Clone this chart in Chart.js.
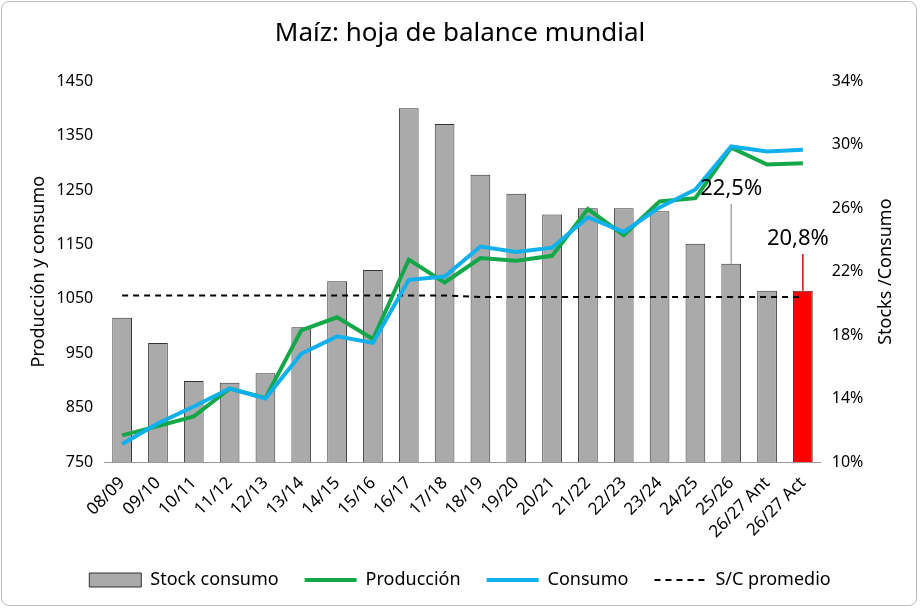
<!DOCTYPE html>
<html><head><meta charset="utf-8">
<script src="https://cdn.jsdelivr.net/npm/chart.js@4"></script>
<style>
html,body{margin:0;padding:0;background:#fff;}
#wrap{position:absolute;left:1px;top:1px;width:916px;height:605px;border:1px solid #bbb;border-radius:8px;box-sizing:border-box;}
canvas{position:absolute;left:0;top:0;}
</style></head><body>
<div id="wrap"><canvas id="c" width="914" height="603"></canvas></div>
<script>
const categories=["08/09","09/10","10/11","11/12","12/13","13/14","14/15","15/16","16/17","17/18","18/19","19/20","20/21","21/22","22/23","23/24","24/25","25/26","26/27 Ant","26/27 Act"];
const stockConsumo=[19.1,17.5,15.1,15.0,15.6,18.5,21.4,22.1,32.3,31.3,28.1,26.9,25.6,26.0,26.0,25.8,23.75,22.5,20.8,20.8];
const produccion=[799,816,834,885,868,992,1016,976,1122,1080,1125,1120,1129,1215,1167,1229,1235,1328,1297,1299];
const consumo=[783,821,852,885,867,949,981,969,1085,1091,1146,1136,1144,1200,1173,1218,1251,1330,1321,1324];
const scPromedio=[20.5,20.5,20.5,20.5,20.5,20.5,20.5,20.5,20.5,20.5,20.4,20.4,20.4,20.4,20.4,20.4,20.4,20.4,20.4,20.4];
const labels=[{i:17,text:"22,5%",dx:0,ty:190,color:"#aaa"},{i:19,text:"20,8%",dx:-5,ty:240,color:"#e00"}];
const F="'Noto Sans', sans-serif";
const annot={id:'annot',afterDatasetsDraw(ch){
 const c=ch.ctx,x=ch.scales.x,y=ch.scales.y1;
 labels.forEach(l=>{const px=x.getPixelForValue(l.i),py=y.getPixelForValue(stockConsumo[l.i]);
  c.save();c.strokeStyle=l.color;c.lineWidth=1.5;c.beginPath();c.moveTo(px,py);c.lineTo(px,l.ty+12);c.stroke();
  c.fillStyle='#000';c.font="22px "+F;c.textAlign='center';c.textBaseline='bottom';c.fillText(l.text,px+l.dx,l.ty+8);c.restore();});
 const s=ch.scales.y1;c.save();c.translate(s.right-10,(s.top+s.bottom)/2);c.rotate(-Math.PI/2);
 c.fillStyle='#000';c.font="18px "+F;c.textAlign='center';c.textBaseline='middle';c.fillText('Stocks /Consumo',0,0);c.restore();
}};
const order=['Stock consumo','Producción','Consumo','S/C promedio'];
new Chart(document.getElementById('c'),{
 data:{labels:categories,datasets:[
  {type:'line',label:'Producción',data:produccion,borderColor:'#12a84a',backgroundColor:'#12a84a',borderWidth:4,pointRadius:0,yAxisID:'y',order:1},
  {type:'line',label:'Consumo',data:consumo,borderColor:'#0fb0ec',backgroundColor:'#0fb0ec',borderWidth:4,pointRadius:0,yAxisID:'y',order:0},
  {type:'line',label:'S/C promedio',data:scPromedio,borderColor:'#000',borderWidth:2,borderDash:[6,5],pointRadius:0,yAxisID:'y1',order:2},
  {type:'bar',label:'Stock consumo',data:stockConsumo,backgroundColor:stockConsumo.map((v,i)=>i===stockConsumo.length-1?'#ff0000':'#aaaaaa'),borderColor:'#333',borderWidth:1,yAxisID:'y1',categoryPercentage:0.55,barPercentage:1,order:3}
 ]},
 options:{responsive:false,animation:false,
  layout:{padding:{left:22,right:20,top:0,bottom:6}},
  plugins:{title:{display:true,text:'Maíz: hoja de balance mundial',color:'#000',font:{family:F,size:26,weight:'normal'},padding:{top:16,bottom:32}},
   legend:{position:'bottom',labels:{color:'#000',font:{family:F,size:18},usePointStyle:true,pointStyleWidth:52,boxHeight:14,padding:26,
    sort:(a,b)=>order.indexOf(a.text)-order.indexOf(b.text),
    generateLabels(ch){return ch.data.datasets.map((d,i)=>({text:d.label,datasetIndex:i,pointStyle:d.type==='bar'?'rect':'line',fillStyle:d.type==='bar'?'#aaaaaa':d.borderColor,strokeStyle:d.type==='bar'?'#333':d.borderColor,lineWidth:d.type==='bar'?1:(d.borderWidth),lineDash:d.borderDash||[],fontColor:'#000'}));}}},
   tooltip:{enabled:false}},
  scales:{
   x:{grid:{display:false},border:{color:'#999'},ticks:{color:'#000',font:{family:F,size:17},maxRotation:45,minRotation:45,autoSkip:false}},
   y:{position:'left',min:750,max:1450,ticks:{stepSize:100,color:'#000',font:{family:F,size:16},callback:v=>String(v)},grid:{display:false},border:{display:false},
      title:{display:true,text:'Producción y consumo',color:'#000',font:{family:F,size:18}}},
   y1:{position:'right',min:10,max:34,ticks:{stepSize:4,color:'#000',font:{family:F,size:16},callback:v=>v+'%'},grid:{display:false},border:{display:false},
      title:{display:true,text:'Stocks /Consumo',color:'rgba(0,0,0,0)',font:{family:F,size:18}}}
  }},
 plugins:[annot]
});
</script></body></html>
